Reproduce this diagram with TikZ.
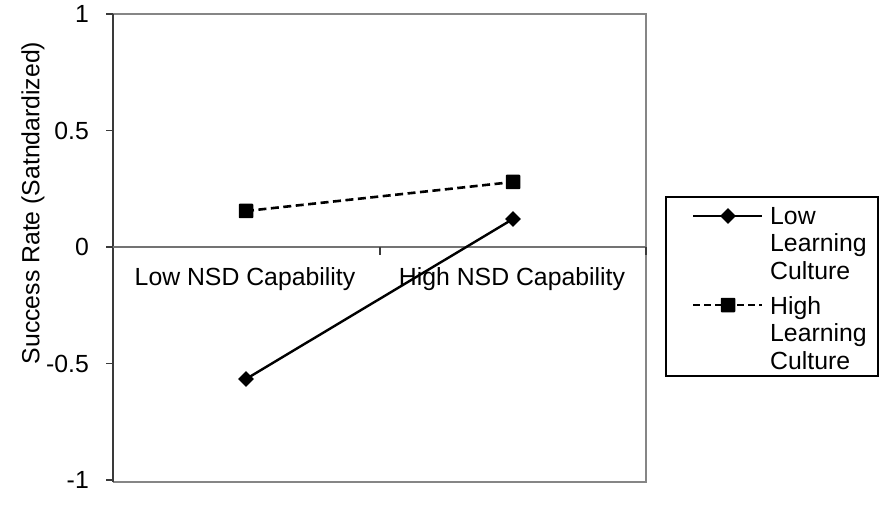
\documentclass[tikz,border=0pt]{standalone}
\usepackage{fontspec}
\setmainfont{Liberation Sans}
\usetikzlibrary{shapes.geometric}
\definecolor{framegray}{HTML}{868686}
\definecolor{axisdark}{HTML}{3A3A3A}
\tikzset{
  lbl/.style={font=\fontsize{24.8}{27.5}\selectfont, inner sep=0pt, text=black},
  frameline/.style={draw=framegray, line width=2.2pt},
  axisline/.style={draw=axisdark, line width=1.6pt},
  zeroline/.style={draw=gray!90!black, line width=1.4pt},
  tickline/.style={draw=axisdark, line width=1.2pt},
  solidser/.style={draw=black, line width=2.4pt},
  dashser/.style={draw=black, line width=2.6pt, dash pattern=on 8pt off 4.5pt},
  diamondmark/.style={diamond, fill=black, inner sep=0pt, minimum width=16pt, minimum height=16pt},
  squaremark/.style={rectangle, fill=black, inner sep=0pt, minimum size=14.5pt, rounded corners=0.8pt},
}
\begin{document}
\begin{tikzpicture}[x=1pt, y=-1pt]
  \useasboundingbox (0,0) rectangle (879,524);

  % plot frame
  \draw[frameline] (113,14) -- (646,14) -- (646,482) -- (113,482);
  \draw[axisline] (113,14) -- (113,482);

  % value axis ticks and labels
  \foreach \yy/\tv in {14/1, 130.5/0.5, 247/0, 363.5/-0.5, 480/-1} {
    \draw[tickline] (106,\yy) -- (113,\yy);
    \node[lbl, anchor=east] at (89,\yy) {\tv};
  }

  % category axis on the zero line
  \draw[zeroline] (113,247) -- (646,247);
  \draw[tickline] (380,247) -- (380,255);
  \draw[tickline] (646,247) -- (646,255);
  \node[lbl, anchor=base] (catlow) at (245,285) {Low NSD Capability};
  \node[lbl, anchor=base] (cathigh) at (512,285) {High NSD Capability};

  % axis title
  \node[lbl, rotate=90] (ytitle) at (33,203) {Success Rate (Satndardized)};

  % series points
  \coordinate (hl) at (246,211);
  \coordinate (hh) at (513,182);
  \coordinate (ll) at (246,379);
  \coordinate (lh) at (513,219);

  % series lines
  \draw[dashser] (hl) -- (hh);
  \draw[solidser] (ll) -- (lh);
  \node[squaremark] (mhl) at (hl) {};
  \node[squaremark] (mhh) at (hh) {};
  \node[diamondmark] (mll) at (ll) {};
  \node[diamondmark] (mlh) at (lh) {};

  % legend
  \draw[draw=black, line width=1.5pt] (666,197) rectangle (878,376);
  \coordinate (lega1) at (693,216);
  \coordinate (lega2) at (762,216);
  \coordinate (legb1) at (693,305);
  \coordinate (legb2) at (762,305);
  \draw[solidser] (lega1) -- (lega2);
  \node[diamondmark] (legdia) at (728,216) {};
  \draw[dashser, dash pattern=on 7pt off 4pt] (legb1) -- (legb2);
  \node[squaremark] (legsq) at (728,305) {};
  \node[lbl, align=left, anchor=north west] (legtxta) at (770,207) {Low\\Learning\\Culture};
  \node[lbl, align=left, anchor=north west] (legtxtb) at (770,296) {High\\Learning\\Culture};
\end{tikzpicture}
\end{document}
